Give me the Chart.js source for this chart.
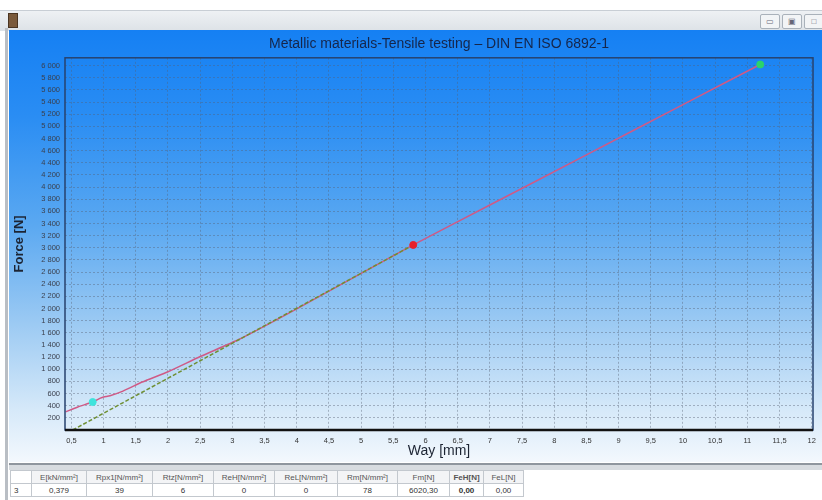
<!DOCTYPE html>
<html>
<head>
<meta charset="utf-8">
<script src="https://cdn.jsdelivr.net/npm/chart.js@4.4.1/dist/chart.umd.min.js"></script>
<style>
    body { margin: 0; width: 822px; height: 500px; background: #fff; font-family: "Liberation Sans", Arial, sans-serif; overflow: hidden; position: relative; }
    #topbar { position: absolute; left: 0; top: 10px; width: 822px; height: 20px; background: linear-gradient(#eef1f4, #dde2e7); border-top: 1px solid #c8ced5; }
    #icon { position: absolute; left: 8px; top: 2px; width: 8px; height: 13px; background: #7a5a3c; border: 1px solid #4a3522; }
    .btn { position: absolute; top: 3px; width: 18px; height: 13px; border: 1px solid #a9b1ba; background: #f2f4f6; border-radius: 2px; font-size: 8px; color: #667; text-align: center; line-height: 13px; }
    #leftline { position: absolute; left: 5px; top: 28px; width: 3px; height: 472px; background: #b9bec4; }
    #panel { position: absolute; left: 9px; top: 30px; width: 813px; height: 432px;
        background: linear-gradient(#1580f3 0%, #2a8df3 20%, #5aa8f1 45%, #9ccaf3 68%, #d6e9f9 88%, #f3f8fd 100%); }
    #sep { position: absolute; left: 9px; top: 463px; width: 813px; height: 5px; border-top: 2px solid #8f969e; background: #d8dce0; }
    table { position: absolute; left: 10px; top: 470px; border-collapse: collapse; font-size: 8px; color: #333; }
    td { border: 1px solid #c3c8ce; height: 12px; padding: 0; text-align: center; white-space: nowrap; }
    tr.head td { background: #f3f4f6; color: #555; }
    tr.head td.first { background: #fff; }
</style>
</head>
<body>
<div id="topbar">
    <div id="icon"></div>
    <div class="btn" style="left:760px">&#9645;</div>
    <div class="btn" style="left:782px">&#9635;</div>
    <div class="btn" style="left:804px">&#9633;</div>
</div>
<div id="leftline"></div>
<div id="panel"><canvas id="chart" width="813" height="432"></canvas></div>
<div id="sep"></div>
<table>
    <tr class="head">
        <td class="first" style="width:20px"></td>
        <td style="width:54px">E[kN/mm²]</td>
        <td style="width:65px">Rpx1[N/mm²]</td>
        <td style="width:60px">Rtz[N/mm²]</td>
        <td style="width:60px">ReH[N/mm²]</td>
        <td style="width:62px">ReL[N/mm²]</td>
        <td style="width:59px">Rm[N/mm²]</td>
        <td style="width:51px">Fm[N]</td>
        <td style="width:33px"><b>FeH[N]</b></td>
        <td style="width:39px">FeL[N]</td>
    </tr>
    <tr>
        <td style="text-align:left;padding-left:3px">3</td>
        <td>0,379</td>
        <td>39</td>
        <td>6</td>
        <td>0</td>
        <td>0</td>
        <td>78</td>
        <td>6020,30</td>
        <td><b>0,00</b></td>
        <td>0,00</td>
    </tr>
</table>
<script>
// measured curve (way in mm, force in N)
const curveWay   = [0.41, 0.6, 0.83, 0.95, 1.0, 1.1, 1.3, 1.6, 2.0, 2.5, 3.1, 4.0, 5.0, 5.81, 7.0, 8.5, 10.0, 11.2];
const curveForce = [300, 380, 461, 525, 545, 565, 640, 790, 960, 1210, 1490, 1995, 2580, 3048, 3705, 4530, 5360, 6020];

// modulus line
const fitWay   = [0.52, 5.81];
const fitForce = [0, 3048];

// marked points
const markWay    = [0.83, 5.81, 11.2];
const markForce  = [461, 3048, 6020];
const markColors = ['#3fe3dc', '#e8202a', '#2bd46a'];

// tick labels
const xTicks = [0.5, 1, 1.5, 2, 2.5, 3, 3.5, 4, 4.5, 5, 5.5, 6, 6.5, 7, 7.5, 8, 8.5, 9, 9.5, 10, 10.5, 11, 11.5, 12];
const yTicks = [200, 400, 600, 800, 1000, 1200, 1400, 1600, 1800, 2000, 2200, 2400, 2600, 2800, 3000,
                3200, 3400, 3600, 3800, 4000, 4200, 4400, 4600, 4800, 5000, 5200, 5400, 5600, 5800, 6000];

function pairs(xs, ys) {
    return xs.map(function(x, i) { return { x: x, y: ys[i] }; });
}

function fmtForce(v) {
    if (v >= 1000) return Math.floor(v / 1000) + ' ' + String(v % 1000).padStart(3, '0');
    return String(v);
}

// frame around the plot area
const framePlugin = {
    id: 'frame',
    afterDraw: function(chart) {
        const a = chart.chartArea;
        const ctx = chart.ctx;
        ctx.save();
        ctx.strokeStyle = '#27426e';
        ctx.lineWidth = 1.5;
        ctx.strokeRect(a.left, a.top, a.right - a.left, a.bottom - a.top);
        ctx.strokeStyle = '#111';
        ctx.lineWidth = 2.5;
        ctx.beginPath();
        ctx.moveTo(a.left, a.bottom);
        ctx.lineTo(a.right, a.bottom);
        ctx.stroke();
        ctx.restore();
    }
};

const gridStyle = {
    color: 'rgba(85,95,115,0.42)',
    lineWidth: 1,
    drawTicks: false
};

new Chart(document.getElementById('chart'), {
    type: 'scatter',
    data: {
        datasets: [
            {
                label: 'Fit',
                data: pairs(fitWay, fitForce),
                showLine: true,
                borderColor: '#6f8f34',
                borderWidth: 1.5,
                borderDash: [4, 2],
                pointRadius: 0,
                order: 2
            },
            {
                label: 'Curve',
                data: pairs(curveWay, curveForce),
                showLine: true,
                borderColor: '#cf5a86',
                borderWidth: 1.5,
                pointRadius: 0,
                tension: 0.2,
                order: 3
            },
            {
                label: 'Points',
                data: pairs(markWay, markForce),
                showLine: false,
                pointRadius: 3.5,
                pointBackgroundColor: markColors,
                pointBorderColor: markColors,
                order: 1
            }
        ]
    },
    options: {
        responsive: false,
        animation: false,
        layout: { padding: { left: 0, right: 9, top: 0, bottom: 0 } },
        plugins: {
            legend: { display: false },
            tooltip: { enabled: false },
            title: {
                display: true,
                fullSize: false,
                text: 'Metallic materials-Tensile testing \u2013 DIN EN ISO 6892-1',
                color: '#16264a',
                font: { family: 'Liberation Sans', size: 14, weight: 'normal' },
                padding: { top: 6, bottom: 5 }
            }
        },
        scales: {
            x: {
                type: 'linear',
                min: 0.4,
                max: 12.02,
                afterBuildTicks: function(scale) {
                    scale.ticks = xTicks.map(function(v) { return { value: v }; });
                },
                afterFit: function(scale) { scale.height = 32; },
                grid: gridStyle,
                border: { display: false, dash: [2, 2] },
                ticks: {
                    padding: 6,
                    color: '#333',
                    font: { family: 'Liberation Sans', size: 7.5 },
                    maxRotation: 0,
                    autoSkip: false,
                    callback: function(v) { return String(v).replace('.', ','); }
                },
                title: {
                    display: true,
                    text: 'Way [mm]',
                    color: '#1c2433',
                    font: { family: 'Liberation Sans', size: 14 },
                    padding: { top: 0, bottom: 2 }
                }
            },
            y: {
                type: 'linear',
                min: 0,
                max: 6130,
                afterBuildTicks: function(scale) {
                    scale.ticks = yTicks.map(function(v) { return { value: v }; });
                },
                afterFit: function(scale) { scale.width = 56; },
                grid: gridStyle,
                border: { display: false, dash: [2, 2] },
                ticks: {
                    padding: 5,
                    color: '#3a3f4c',
                    font: { family: 'Liberation Sans', size: 7.5 },
                    autoSkip: false,
                    callback: function(v) { return fmtForce(v); }
                },
                title: {
                    display: true,
                    text: 'Force [N]',
                    color: '#1c2433',
                    font: { family: 'Liberation Sans', size: 13, weight: 'bold' },
                    padding: { top: 3, bottom: 0 }
                }
            }
        }
    },
    plugins: [framePlugin]
});
</script>
</body>
</html>
